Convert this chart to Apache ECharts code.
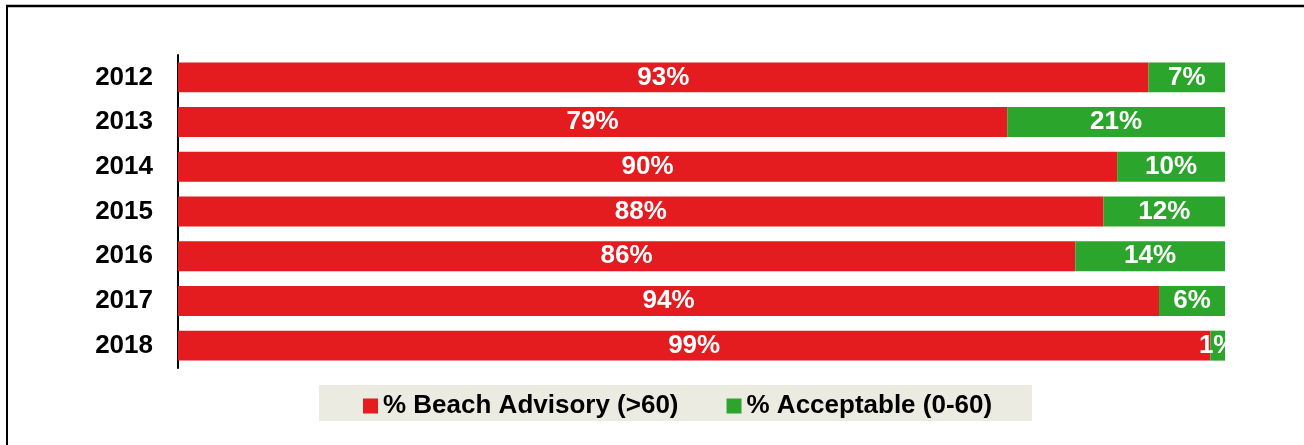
<!DOCTYPE html>
<html>
<head>
<meta charset="utf-8">
<script src="https://cdn.jsdelivr.net/npm/echarts@6/dist/echarts.min.js"></script>
<style>
  html, body { margin: 0; padding: 0; background: #fff; }
  #chart { width: 1304px; height: 445px; }
</style>
</head>
<body>
<div id="chart"></div>
<script>
  // years, top to bottom; shares (labels shown rounded)
  var years = ['2012', '2013', '2014', '2015', '2016', '2017', '2018'];
  var advisory = [92.7, 79.2, 89.7, 88.4, 85.7, 93.7, 98.6];
  var acceptable = [7.3, 20.8, 10.3, 11.6, 14.3, 6.3, 1.4];

  var myChart = echarts.init(document.getElementById('chart'));

  var labelStyle = {
    show: true,
    position: 'inside',
    formatter: function (p) {
      return Math.round(p.value) + '%';
    },
    color: '#fff',
    fontSize: 26,
    fontWeight: 'bold',
    fontFamily: 'Liberation Sans, Arial, sans-serif'
  };

  myChart.setOption({
    animation: false,
    graphic: [
      // frame lines (top + left)
      { type: 'line', shape: { x1: 6, y1: 6, x2: 1304, y2: 6 }, style: { stroke: '#000', lineWidth: 2.5 } },
      { type: 'line', shape: { x1: 7, y1: 6, x2: 7, y2: 445 }, style: { stroke: '#000', lineWidth: 2 } },
      // legend background
      { type: 'rect', z: 0, shape: { x: 319, y: 385, width: 713, height: 36 }, style: { fill: '#ecebe1' } }
    ],
    grid: { left: 178, right: 79, top: 55, bottom: 77 },
    legend: {
      left: 363,
      top: 393,
      padding: 0,
      itemWidth: 15,
      itemHeight: 15,
      itemGap: 48,
      icon: 'rect',
      textStyle: {
        color: '#000',
        fontSize: 26,
        fontWeight: 'bold',
        fontFamily: 'Liberation Sans, Arial, sans-serif'
      },
      data: ['% Beach Advisory (>60)', '% Acceptable (0-60)']
    },
    xAxis: {
      type: 'value',
      min: 0,
      max: 100,
      show: false
    },
    yAxis: {
      type: 'category',
      inverse: true,
      data: years,
      axisLine: { show: true, lineStyle: { color: '#000', width: 2 } },
      axisTick: { show: false },
      axisLabel: {
        margin: 25,
        color: '#000',
        fontSize: 26,
        fontWeight: 'bold',
        fontFamily: 'Liberation Sans, Arial, sans-serif'
      }
    },
    series: [
      {
        name: '% Beach Advisory (>60)',
        type: 'bar',
        stack: 'total',
        barCategoryGap: '33%',
        itemStyle: { color: '#e41b1f' },
        label: labelStyle,
        data: advisory
      },
      {
        name: '% Acceptable (0-60)',
        type: 'bar',
        stack: 'total',
        barCategoryGap: '33%',
        itemStyle: { color: '#2ba52b' },
        label: labelStyle,
        data: acceptable
      }
    ]
  });
</script>
</body>
</html>
